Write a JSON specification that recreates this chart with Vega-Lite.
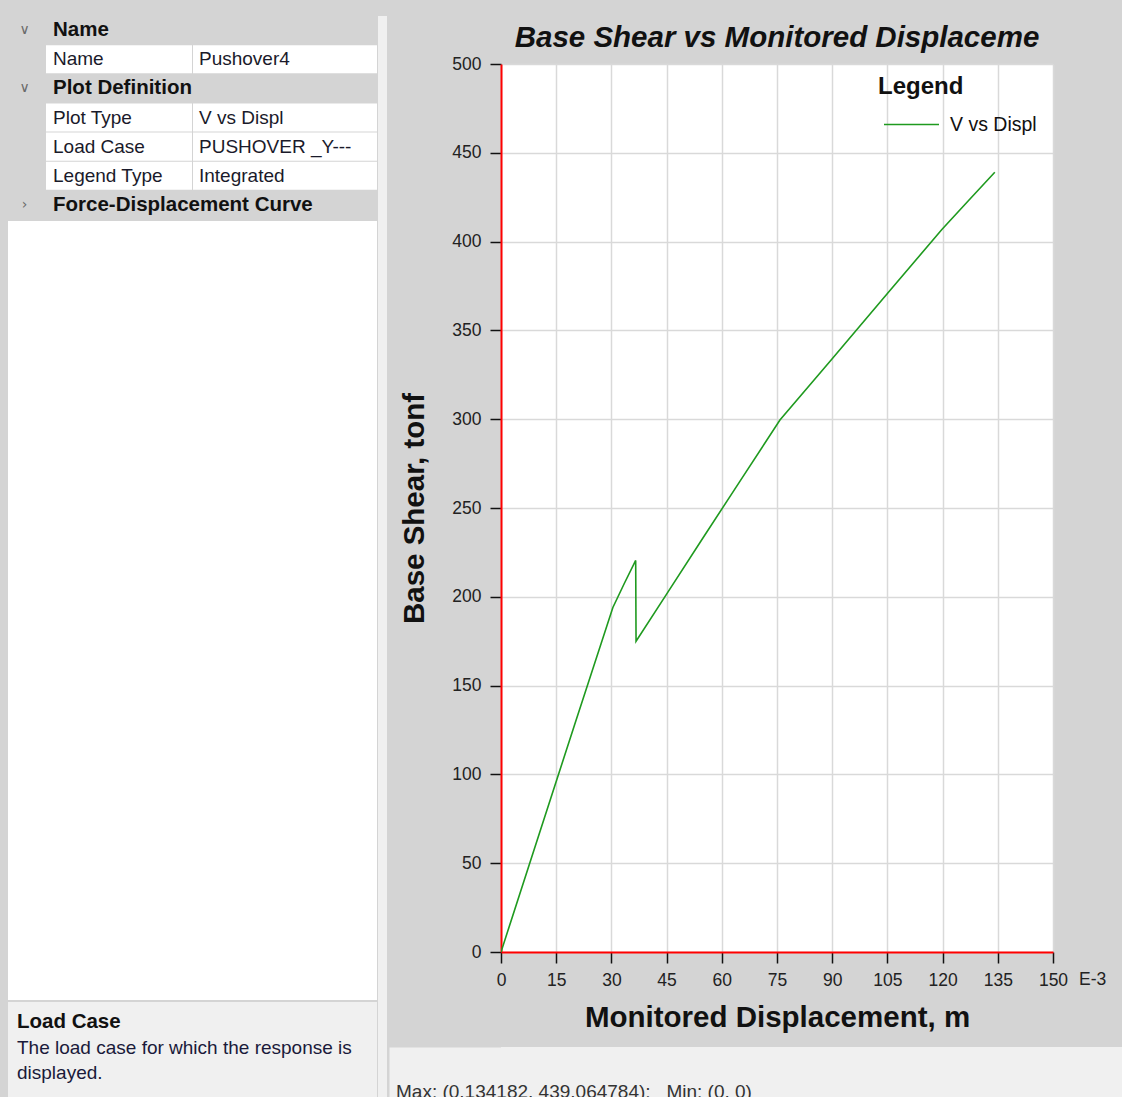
{
  "$schema": "https://vega.github.io/schema/vega-lite/v6.json",
  "background": "#d4d4d4",
  "padding": {"left": 8, "top": 10, "right": 0, "bottom": 0},
  "config": {
    "view": {"stroke": null},
    "font": "Liberation Sans",
    "text": {"font": "Liberation Sans"}
  },
  "datasets": {
    "grid": [
      {"row": 0, "kind": "category", "label": "Name", "value": "", "chevron": "∨"},
      {"row": 1, "kind": "property", "label": "Name", "value": "Pushover4", "chevron": ""},
      {"row": 2, "kind": "category", "label": "Plot Definition", "value": "", "chevron": "∨"},
      {"row": 3, "kind": "property", "label": "Plot Type", "value": "V vs Displ", "chevron": ""},
      {"row": 4, "kind": "property", "label": "Load Case", "value": "PUSHOVER _Y---", "chevron": ""},
      {"row": 5, "kind": "property", "label": "Legend Type", "value": "Integrated", "chevron": ""},
      {"row": 6, "kind": "category", "label": "Force-Displacement Curve", "value": "", "chevron": "›"}
    ],
    "help": [
      {"line": 0, "kind": "heading", "text": "Load Case"},
      {"line": 1, "kind": "body", "text": "The load case for which the response is"},
      {"line": 2, "kind": "body", "text": "displayed."}
    ],
    "curve": [
      {"step": 0, "series": "V vs Displ", "disp": 0, "shear": 0},
      {"step": 1, "series": "V vs Displ", "disp": 10, "shear": 64},
      {"step": 2, "series": "V vs Displ", "disp": 20, "shear": 128},
      {"step": 3, "series": "V vs Displ", "disp": 30.4, "shear": 194},
      {"step": 4, "series": "V vs Displ", "disp": 33.5, "shear": 207.5},
      {"step": 5, "series": "V vs Displ", "disp": 36.6, "shear": 220.5},
      {"step": 6, "series": "V vs Displ", "disp": 36.7, "shear": 175},
      {"step": 7, "series": "V vs Displ", "disp": 45, "shear": 201.5},
      {"step": 8, "series": "V vs Displ", "disp": 55, "shear": 233.5},
      {"step": 9, "series": "V vs Displ", "disp": 65, "shear": 265.3},
      {"step": 10, "series": "V vs Displ", "disp": 75.8, "shear": 299.5},
      {"step": 11, "series": "V vs Displ", "disp": 90, "shear": 334},
      {"step": 12, "series": "V vs Displ", "disp": 105, "shear": 370.8},
      {"step": 13, "series": "V vs Displ", "disp": 119.8, "shear": 406.8},
      {"step": 14, "series": "V vs Displ", "disp": 127, "shear": 423},
      {"step": 15, "series": "V vs Displ", "disp": 134.182, "shear": 439.065}
    ],
    "status": [{"text": "Max: (0.134182, 439.064784);\u00a0\u00a0\u00a0Min: (0, 0)"}],
    "unit": [{"label": "E-3"}],
    "blank": [{"label": ""}]
  },
  "spacing": 9,
  "hconcat": [
    {
      "spacing": 1,
      "hconcat": [
        {
          "spacing": 2,
          "vconcat": [
            {
              "spacing": 1,
              "bounds": "flush",
              "hconcat": [
                {
                  "width": 37,
                  "height": 203,
                  "data": {"name": "grid"},
                  "transform": [{"filter": "datum.kind == 'category'"}],
                  "mark": {"type": "text", "align": "center", "baseline": "middle", "font": "DejaVu Sans", "fontSize": 14, "color": "#6a6a6a", "dx": -2},
                  "encoding": {
                    "y": {"field": "row", "type": "ordinal", "scale": {"type": "band", "domain": [0, 1, 2, 3, 4, 5, 6], "paddingInner": 0.035, "paddingOuter": 0}, "axis": null},
                    "x": {"datum": 0.5, "type": "quantitative", "scale": {"domain": [0, 1]}, "axis": null},
                    "text": {"field": "chevron"}
                  }
                },
                {
                  "width": 146,
                  "height": 203,
                  "data": {"name": "grid"},
                  "encoding": {
                    "y": {"field": "row", "type": "ordinal", "scale": {"type": "band", "domain": [0, 1, 2, 3, 4, 5, 6], "paddingInner": 0.035, "paddingOuter": 0}, "axis": null}
                  },
                  "layer": [
                    {
                      "transform": [{"filter": "datum.kind == 'property'"}],
                      "mark": {"type": "rect", "fill": "white"}
                    },
                    {
                      "transform": [{"filter": "datum.kind == 'category'"}],
                      "mark": {"type": "text", "align": "left", "baseline": "middle", "dx": 7, "fontSize": 20.5, "fontWeight": "bold", "color": "#111"},
                      "encoding": {
                        "x": {"datum": 0, "type": "quantitative", "scale": {"domain": [0, 1]}, "axis": null},
                        "text": {"field": "label"}
                      }
                    },
                    {
                      "transform": [{"filter": "datum.kind == 'property'"}],
                      "mark": {"type": "text", "align": "left", "baseline": "middle", "dx": 7, "fontSize": 19, "color": "#1a1a2a"},
                      "encoding": {
                        "x": {"datum": 0, "type": "quantitative", "scale": {"domain": [0, 1]}, "axis": null},
                        "text": {"field": "label"}
                      }
                    }
                  ]
                },
                {
                  "width": 184,
                  "height": 203,
                  "data": {"name": "grid"},
                  "transform": [{"filter": "datum.kind == 'property'"}],
                  "encoding": {
                    "y": {"field": "row", "type": "ordinal", "scale": {"type": "band", "domain": [0, 1, 2, 3, 4, 5, 6], "paddingInner": 0.035, "paddingOuter": 0}, "axis": null}
                  },
                  "layer": [
                    {"mark": {"type": "rect", "fill": "white"}},
                    {
                      "mark": {"type": "text", "align": "left", "baseline": "middle", "dx": 6, "fontSize": 19, "color": "#1a1a2a"},
                      "encoding": {
                        "x": {"datum": 0, "type": "quantitative", "scale": {"domain": [0, 1]}, "axis": null},
                        "text": {"field": "value"}
                      }
                    }
                  ]
                }
              ]
            },
            {
              "width": 369,
              "height": 779,
              "view": {"fill": "white", "stroke": null},
              "data": {"name": "blank"},
              "mark": {"type": "text"},
              "encoding": {"text": {"field": "label"}}
            },
            {
              "width": 369,
              "height": 100,
              "view": {"fill": "#f0f0f0", "stroke": null},
              "data": {"name": "help"},
              "encoding": {
                "y": {"field": "line", "type": "ordinal", "scale": {"type": "point", "range": [20, 71], "padding": 0}, "axis": null},
                "x": {"datum": 0, "type": "quantitative", "scale": {"domain": [0, 1]}, "axis": null},
                "text": {"field": "text"}
              },
              "layer": [
                {
                  "transform": [{"filter": "datum.kind == 'heading'"}],
                  "mark": {"type": "text", "align": "left", "baseline": "middle", "dx": 9, "fontSize": 20.5, "fontWeight": "bold", "color": "#111"}
                },
                {
                  "transform": [{"filter": "datum.kind == 'body'"}],
                  "mark": {"type": "text", "align": "left", "baseline": "middle", "dx": 9, "fontSize": 19, "color": "#1a1a3a"}
                }
              ]
            }
          ]
        },
        {
          "width": 9,
          "height": 1087,
          "view": {"fill": "#f0f0f0", "stroke": null},
          "data": {"name": "blank"},
          "mark": {"type": "text"},
          "encoding": {"text": {"field": "label"}}
        }
      ]
    },
    {
      "spacing": 0,
      "vconcat": [
        {
          "width": 1,
          "height": 1,
          "data": {"name": "blank"},
          "mark": {"type": "text"},
          "encoding": {"text": {"field": "label"}}
        },
        {
          "spacing": 15,
          "vconcat": [
            {
              "width": 552,
              "height": 888,
              "view": {"fill": "white", "stroke": null},
              "title": {"text": "Base Shear vs Monitored Displaceme", "font": "Liberation Sans", "fontSize": 29.5, "fontWeight": "bold", "fontStyle": "italic", "color": "#111", "anchor": "middle", "frame": "group", "offset": 2},
              "layer": [
                {
                  "data": {"name": "curve"},
                  "mark": {"type": "line", "strokeWidth": 1.6, "clip": true},
                  "encoding": {
                    "x": {
                      "field": "disp",
                      "type": "quantitative",
                      "scale": {"domain": [0, 150], "nice": false, "zero": false},
                      "axis": {
                        "title": "Monitored Displacement, m",
                        "values": [0, 15, 30, 45, 60, 75, 90, 105, 120, 135, 150],
                        "grid": true, "gridColor": "#d9d9d9", "gridWidth": 1.5,
                        "domainColor": "#ff0000", "domainWidth": 2,
                        "tickColor": "#111", "tickSize": 11, "tickWidth": 1.5,
                        "labelFont": "Liberation Sans", "labelFontSize": 17.5, "labelColor": "#222", "labelPadding": 8,
                        "labelFlush": false, "labelOverlap": false,
                        "titleFont": "Liberation Sans", "titleFontSize": 29.5, "titleFontWeight": "bold", "titleColor": "#111", "titlePadding": 15
                      }
                    },
                    "y": {
                      "field": "shear",
                      "type": "quantitative",
                      "scale": {"domain": [0, 500], "nice": false, "zero": false},
                      "axis": {
                        "title": "Base Shear, tonf",
                        "values": [0, 50, 100, 150, 200, 250, 300, 350, 400, 450, 500],
                        "grid": true, "gridColor": "#d9d9d9", "gridWidth": 1.5,
                        "domainColor": "#ff0000", "domainWidth": 2,
                        "tickColor": "#111", "tickSize": 11, "tickWidth": 1.5,
                        "labelFont": "Liberation Sans", "labelFontSize": 17.5, "labelColor": "#222", "labelPadding": 9,
                        "labelFlush": false, "labelOverlap": false,
                        "titleFont": "Liberation Sans", "titleFontSize": 29.5, "titleFontWeight": "bold", "titleColor": "#111", "titlePadding": 22
                      }
                    },
                    "color": {
                      "field": "series",
                      "type": "nominal",
                      "scale": {"range": ["#1f9a1f"]},
                      "legend": {
                        "orient": "none", "legendX": 870, "legendY": 59, "padding": 0,
                        "title": "Legend", "titleFont": "Liberation Sans", "titleFontSize": 24, "titleFontWeight": "bold", "titleColor": "#111", "titleAnchor": "start", "titlePadding": -3,
                        "symbolType": "stroke", "symbolSize": 3025, "symbolStrokeWidth": 1.6, "symbolOffset": 5,
                        "labelFont": "Liberation Sans", "labelFontSize": 19.5, "labelColor": "#111", "labelOffset": 10
                      }
                    },
                    "order": {"field": "step", "type": "quantitative"}
                  }
                },
                {
                  "data": {"name": "unit"},
                  "mark": {"type": "text", "align": "left", "baseline": "top", "fontSize": 17.5, "color": "#222", "dx": 26, "dy": 19},
                  "encoding": {
                    "text": {"field": "label"},
                    "x": {"datum": 150, "type": "quantitative"},
                    "y": {"datum": 0, "type": "quantitative"}
                  }
                }
              ]
            },
            {
              "width": 621,
              "height": 52,
              "view": {"fill": "#f0f0f0", "stroke": null},
              "data": {"name": "status"},
              "mark": {"type": "text", "align": "left", "baseline": "alphabetic", "fontSize": 19, "color": "#333", "dx": -105, "dy": -1},
              "encoding": {
                "text": {"field": "text"},
                "x": {"datum": 0, "type": "quantitative", "scale": {"domain": [0, 1]}, "axis": null},
                "y": {
                  "datum": 0, "type": "quantitative", "scale": {"domain": [0, 1]},
                  "axis": {"title": null, "labels": false, "ticks": false, "grid": false, "domain": true, "domainColor": "#f0f0f0", "domainWidth": 112, "domainCap": "butt", "offset": 56}
                }
              }
            }
          ]
        }
      ]
    }
  ]
}
